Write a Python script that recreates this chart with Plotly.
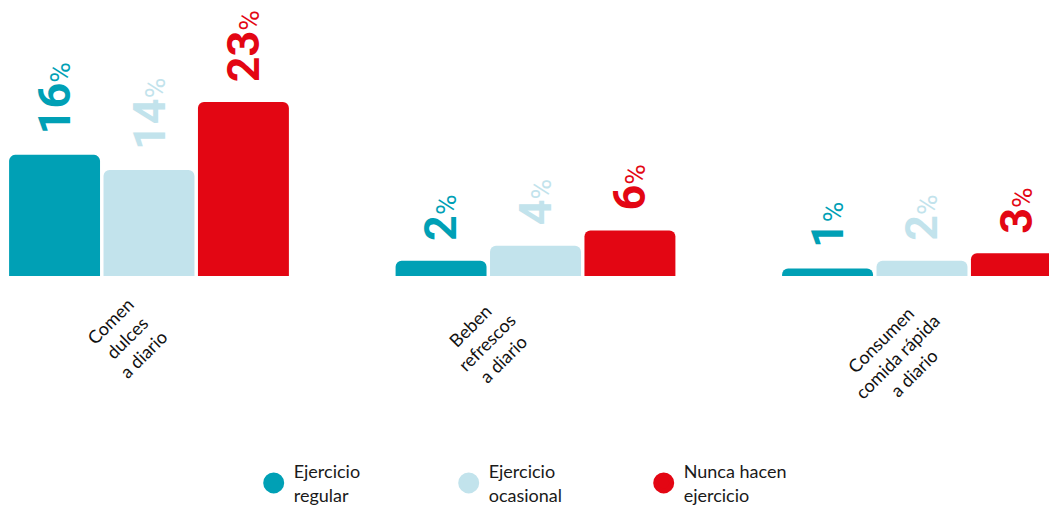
import plotly.graph_objects as go

categories = ["Comen<br>dulces<br>a diario",
              "Beben<br>refrescos<br>a diario",
              "Consumen<br>comida rápida<br>a diario"]
series_names = ["Ejercicio<br>regular", "Ejercicio<br>ocasional", "Nunca hacen<br>ejercicio"]
regular = [16, 2, 1]
ocasional = [14, 4, 2]
nunca = [23, 6, 3]
colors = ["#00a0b5", "#c2e3ec", "#e30613"]

# styling
BARGAP = 0.267
BARGROUPGAP = 0.037
NUM_FONT = "Roboto, Liberation Sans, sans-serif"
TXT_FONT = "Lato, Noto Sans, sans-serif"
LABEL_XSHIFT = [-22, -49, -25]

fig = go.Figure()
xs = list(range(len(categories)))
series = [regular, ocasional, nunca]
n = len(series)
slot = (1 - BARGAP) / n

for k, (name, vals, col) in enumerate(zip(series_names, series, colors)):
    fig.add_bar(x=xs, y=vals, name=name, showlegend=False, hoverinfo="skip",
                marker=dict(color=col, cornerradius=6, line=dict(width=0)))
    fig.add_scatter(x=[None], y=[None], mode="markers", name=name, showlegend=True,
                    marker=dict(color=col, size=16, symbol="circle",
                                line=dict(color=col, width=5)))
    for i, v in enumerate(vals):
        fig.add_annotation(
            x=i + (k - (n - 1) / 2) * slot, y=v, xref="x", yref="y",
            text=f"<b>{v}</b><span style='font-size:28px;font-weight:normal'>%</span>",
            textangle=-90, showarrow=False, xanchor="center", yanchor="bottom",
            yshift=18, font=dict(family=NUM_FONT, size=45, color=col))

for i, c in enumerate(categories):
    fig.add_annotation(x=i, y=0, xref="x", yref="y", text=c, textangle=-45,
                       showarrow=False, xanchor="center", yanchor="top",
                       yshift=-14, xshift=LABEL_XSHIFT[i], align="center",
                       font=dict(family=TXT_FONT, size=18, color="#111111"))

fig.update_layout(
    width=1041, height=505,
    margin=dict(l=0, r=0, t=0, b=237),
    paper_bgcolor="white", plot_bgcolor="white",
    barmode="group", bargap=BARGAP, bargroupgap=BARGROUPGAP,
    showlegend=True,
    legend=dict(orientation="h", x=0.517, xanchor="center",
                yref="container", y=-0.01, yanchor="bottom",
                font=dict(family=TXT_FONT, size=18, color="#1a1a1a"),
                entrywidth=150, valign="middle"),
    xaxis=dict(range=[-0.3648, 2.3286], showticklabels=False, showgrid=False,
               zeroline=False, showline=False, ticks=""),
    yaxis=dict(range=[0, 35.4], showticklabels=False, showgrid=False,
               zeroline=False, showline=False, ticks=""),
)

fig.write_html("out.html")
